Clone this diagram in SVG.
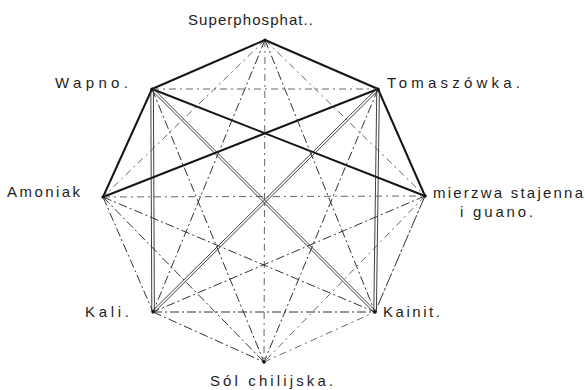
<svg xmlns="http://www.w3.org/2000/svg" width="585" height="390" viewBox="0 0 585 390">
<style>
  text { font-family: "Liberation Sans", "DejaVu Sans", sans-serif; font-size: 15px; fill: #1e1e1e; }
  .thick { stroke: #151515; stroke-width: 2; fill: none; stroke-linecap: round; }
  .dbl { stroke: #2a2a2a; stroke-width: 0.9; fill: none; }
  .dd { stroke: #333; stroke-width: 1; fill: none; stroke-dasharray: 9 3 2 3; }
  .dl { stroke: #555; stroke-width: 0.9; fill: none; stroke-dasharray: 7 4 2 4; }
  .pt { fill: #111; }
</style>
<rect width="585" height="390" fill="#ffffff"/>
<g id="connectors">
  <line class="thick" x1="265" y1="40" x2="152" y2="89"/>
  <line class="thick" x1="265" y1="40" x2="378" y2="89"/>
  <line class="thick" x1="152" y1="89" x2="103" y2="197"/>
  <line class="thick" x1="378" y1="89" x2="425" y2="196"/>
  <line class="thick" x1="152" y1="89" x2="425" y2="196"/>
  <line class="thick" x1="103" y1="197" x2="378" y2="89"/>
  <line class="dbl" x1="150.8" y1="89" x2="151.8" y2="312"/>
  <line class="dbl" x1="153.4" y1="89" x2="154.4" y2="312"/>
  <line class="dbl" x1="376.8" y1="89" x2="373.8" y2="312"/>
  <line class="dbl" x1="379.4" y1="89" x2="376.4" y2="312"/>
  <line class="dbl" x1="152.2" y1="311.2" x2="377.2" y2="88.2"/>
  <line class="dbl" x1="153.8" y1="312.8" x2="378.8" y2="89.8"/>
  <line class="dbl" x1="152.8" y1="88.2" x2="375.8" y2="311.2"/>
  <line class="dbl" x1="151.2" y1="89.8" x2="374.2" y2="312.8"/>
  <line class="dd" x1="103" y1="197" x2="153" y2="312"/>
  <line class="dd" x1="153" y1="312" x2="264" y2="362"/>
  <line class="dl" x1="264" y1="362" x2="375" y2="312"/>
  <line class="dd" x1="425" y1="196" x2="375" y2="312" style="stroke-dasharray:14 2 3 2"/>
  <line class="dl" x1="152" y1="89" x2="378" y2="89"/>
  <line class="dl" x1="103" y1="197" x2="425" y2="196"/>
  <line class="dd" x1="153" y1="312" x2="375" y2="312"/>
  <line class="dl" x1="265" y1="40" x2="264" y2="362"/>
  <line class="dl" x1="265" y1="40" x2="103" y2="197"/>
  <line class="dl" x1="265" y1="40" x2="425" y2="196"/>
  <line class="dd" x1="265" y1="40" x2="153" y2="312"/>
  <line class="dd" x1="265" y1="40" x2="375" y2="312"/>
  <line class="dd" x1="152" y1="89" x2="264" y2="362"/>
  <line class="dd" x1="378" y1="89" x2="264" y2="362"/>
  <line class="dd" x1="103" y1="197" x2="375" y2="312"/>
  <line class="dd" x1="425" y1="196" x2="153" y2="312"/>
  <line class="dd" x1="103" y1="197" x2="264" y2="362"/>
  <line class="dl" x1="425" y1="196" x2="264" y2="362"/>
</g>
<g id="superphosphat">
  <circle class="pt" cx="265" cy="40" r="1.6"/>
  <text x="188" y="25" textLength="125" lengthAdjust="spacing">Superphosphat..</text>
</g>
<g id="tomaszowka">
  <circle class="pt" cx="378" cy="89" r="1.6"/>
  <text x="387" y="88" textLength="133" lengthAdjust="spacing">Tomaszówka.</text>
</g>
<g id="mierzwa">
  <circle class="pt" cx="425" cy="196" r="1.8"/>
  <text x="433" y="198" textLength="150" lengthAdjust="spacing">mierzwa stajenna</text>
  <text x="460" y="217" textLength="73" lengthAdjust="spacing">i guano.</text>
</g>
<g id="kainit">
  <circle class="pt" cx="375" cy="312" r="1.8"/>
  <text x="383" y="317" textLength="57" lengthAdjust="spacing">Kainit.</text>
</g>
<g id="sol-chilijska">
  <circle class="pt" cx="264" cy="362" r="1.8"/>
  <text x="210" y="386" textLength="123" lengthAdjust="spacing">Sól chilijska.</text>
</g>
<g id="kali">
  <circle class="pt" cx="153" cy="312" r="1.6"/>
  <text x="85" y="317" textLength="44" lengthAdjust="spacing">Kali.</text>
</g>
<g id="amoniak">
  <circle class="pt" cx="103" cy="197" r="1.6"/>
  <text x="7" y="197" textLength="73" lengthAdjust="spacing">Amoniak</text>
</g>
<g id="wapno">
  <circle class="pt" cx="152" cy="89" r="1.6"/>
  <text x="55" y="88" textLength="73" lengthAdjust="spacing">Wapno.</text>
</g>
</svg>
